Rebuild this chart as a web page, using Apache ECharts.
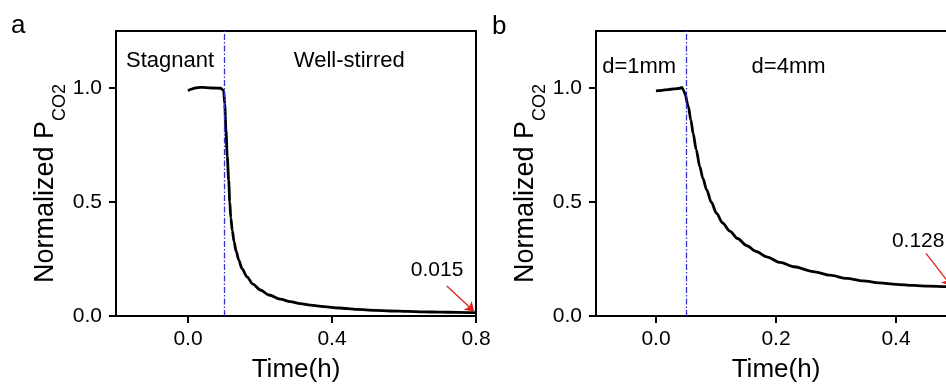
<!DOCTYPE html>
<html>
<head>
<meta charset="utf-8">
<script src="https://cdn.jsdelivr.net/npm/echarts@6/dist/echarts.min.js"></script>
<style>
  html, body { margin: 0; padding: 0; background: #fff; overflow: hidden; }
  #main { width: 960px; height: 388px; }
</style>
</head>
<body>
<div id="main"></div>
<script>
 // panel a: stagnant -> well-stirred
 var timeA = [0.000, 0.010, 0.020, 0.034, 0.050, 0.070, 0.090, 0.099, 0.102, 0.1055, 0.109, 0.113, 0.116, 0.119, 0.123, 0.128, 0.134, 0.141, 0.150, 0.164, 0.180, 0.201, 0.225, 0.256, 0.284, 0.312, 0.340, 0.377, 0.420, 0.469, 0.520, 0.562, 0.610, 0.654, 0.700, 0.750, 0.800];
 var valueA = [0.988, 0.995, 1.000, 1.003, 1.002, 1.000, 0.999, 0.990, 0.930, 0.816, 0.700, 0.596, 0.500, 0.430, 0.375, 0.325, 0.283, 0.245, 0.208, 0.172, 0.140, 0.114, 0.092, 0.074, 0.063, 0.054, 0.048, 0.041, 0.035, 0.029, 0.025, 0.022, 0.020, 0.018, 0.017, 0.016, 0.015];
 // panel b: d=1mm -> d=4mm
 var timeB = [0.000, 0.010, 0.020, 0.030, 0.040, 0.043, 0.046, 0.048, 0.054, 0.058, 0.062, 0.067, 0.073, 0.078, 0.0845, 0.092, 0.101, 0.111, 0.123, 0.136, 0.151, 0.167, 0.1845, 0.207, 0.230, 0.262, 0.290, 0.318, 0.345, 0.373, 0.400, 0.429, 0.455, 0.483, 0.500];
 var valueB = [0.987, 0.990, 0.993, 0.996, 0.999, 1.003, 0.990, 0.977, 0.918, 0.860, 0.800, 0.730, 0.655, 0.605, 0.553, 0.500, 0.450, 0.408, 0.372, 0.340, 0.309, 0.283, 0.259, 0.235, 0.216, 0.195, 0.179, 0.165, 0.154, 0.145, 0.139, 0.134, 0.131, 0.129, 0.128];
 var switchTime = [0.1, 0.046];
 var endValue = [0.015, 0.128];
 var regionLabelsA = ['Stagnant', 'Well-stirred'];
 var regionLabelsB = ['d=1mm', 'd=4mm'];
 var xTicksA = [0, 0.4, 0.8];
 var xTicksB = [0, 0.2, 0.4];
 var yTicks = [0, 0.5, 1.0];

 var FONT = '"Liberation Sans", Arial, sans-serif';

 function zip(xs, ys) {
     var out = [];
     for (var i = 0; i < xs.length; i++) out.push([xs[i], ys[i]]);
     return out;
 }

 function xAxisCfg(idx, min, max, ticks) {
     return {
         type: 'value',
         gridIndex: idx,
         min: min,
         max: max,
         name: 'Time(h)',
         nameLocation: 'middle',
         nameGap: 41,
         nameTextStyle: { fontSize: 26, color: '#000', fontFamily: FONT },
         axisLine: { onZero: false, lineStyle: { color: '#000', width: 2 } },
         axisTick: { length: 7, lineStyle: { color: '#000', width: 2 }, customValues: ticks },
         axisLabel: {
             customValues: ticks, margin: 13, fontSize: 21, color: '#000', fontFamily: FONT,
             formatter: function(v) { return v.toFixed(1); }
         },
         splitLine: { show: false }
     };
 }

 function yAxisCfg(idx) {
     return {
         type: 'value',
         gridIndex: idx,
         min: 0,
         max: 1.25,
         name: '{m|Normalized P}{s|CO2}',
         nameLocation: 'middle',
         nameGap: 47,
         nameTextStyle: {
             color: '#000', fontFamily: FONT,
             padding: [0, 20, 0, 0],
             rich: {
                 m: { fontSize: 27, lineHeight: 27, verticalAlign: 'top', color: '#000', fontFamily: FONT },
                 s: { fontSize: 18, lineHeight: 18, verticalAlign: 'top', padding: [19, 0, 0, 0], color: '#000', fontFamily: FONT }
             }
         },
         axisLine: { onZero: false, lineStyle: { color: '#000', width: 2 } },
         axisTick: { length: 7, lineStyle: { color: '#000', width: 2 }, customValues: yTicks },
         axisLabel: {
             customValues: yTicks, margin: 14, fontSize: 21, color: '#000', fontFamily: FONT,
             formatter: function(v) { return v.toFixed(1); }
         },
         splitLine: { show: false }
     };
 }

 var textLabel = { show: true, position: 'inside', fontSize: 22, color: '#000', fontFamily: FONT };
 var redLabel = { show: true, position: 'inside', fontSize: 21, color: '#000', fontFamily: FONT };

 function curveSeries(idx, data, tSwitch, labels, labelPos, endLabelPos, arrowFrom, arrowTo, endVal) {
     return {
         type: 'line',
         xAxisIndex: idx,
         yAxisIndex: idx,
         data: data,
         showSymbol: false,
         smooth: 0.3,
         smoothMonotone: 'x',
         lineStyle: { color: '#000', width: 2.8 },
         markLine: {
             silent: true,
             symbol: ['none', 'none'],
             label: { show: false },
             animation: false,
             data: [
                 { xAxis: tSwitch, lineStyle: { color: '#3434d4', width: 1.3, type: [6, 2, 1.5, 2] } },
                 [
                     { coord: arrowFrom, symbol: 'none', lineStyle: { color: '#e0201c', width: 1.3, type: 'solid' } },
                     { coord: arrowTo, symbol: 'arrow', symbolSize: 9 }
                 ]
             ]
         },
         markPoint: {
             silent: true,
             symbol: 'circle',
             symbolSize: 0,
             animation: false,
             data: [
                 { coord: labelPos[0], label: Object.assign({ formatter: labels[0] }, textLabel) },
                 { coord: labelPos[1], label: Object.assign({ formatter: labels[1] }, textLabel) },
                 { coord: endLabelPos, label: Object.assign({ formatter: endVal.toFixed(3) }, redLabel) }
             ]
         }
     };
 }

 var chart = echarts.init(document.getElementById('main'));
 var option = {
     animation: false,
     backgroundColor: '#fff',
     title: [
         { text: 'a', left: 11, top: 13, padding: 0, textStyle: { fontSize: 26, fontWeight: 'normal', color: '#000', fontFamily: FONT } },
         { text: 'b', left: 492, top: 14, padding: 0, textStyle: { fontSize: 26, fontWeight: 'normal', color: '#000', fontFamily: FONT } }
     ],
     grid: [
         { left: 116, top: 31, width: 360, height: 285, show: true, borderColor: '#000', borderWidth: 2, backgroundColor: 'transparent' },
         { left: 596, top: 31, width: 360, height: 285, show: true, borderColor: '#000', borderWidth: 2, backgroundColor: 'transparent' }
     ],
     xAxis: [xAxisCfg(0, -0.2, 0.8, xTicksA), xAxisCfg(1, -0.1, 0.5, xTicksB)],
     yAxis: [yAxisCfg(0), yAxisCfg(1)],
     series: [
         curveSeries(0, zip(timeA, valueA), switchTime[0], regionLabelsA,
             [[-0.05, 1.118], [0.448, 1.118]], [0.692, 0.2],
             [0.719, 0.1316], [0.795, 0.02], endValue[0]),
         curveSeries(1, zip(timeB, valueB), switchTime[1], regionLabelsB,
             [[-0.028, 1.092], [0.221, 1.092]], [0.437, 0.33],
             [0.45, 0.275], [0.492, 0.132], endValue[1])
     ]
 };
 chart.setOption(option);
</script>
</body>
</html>
